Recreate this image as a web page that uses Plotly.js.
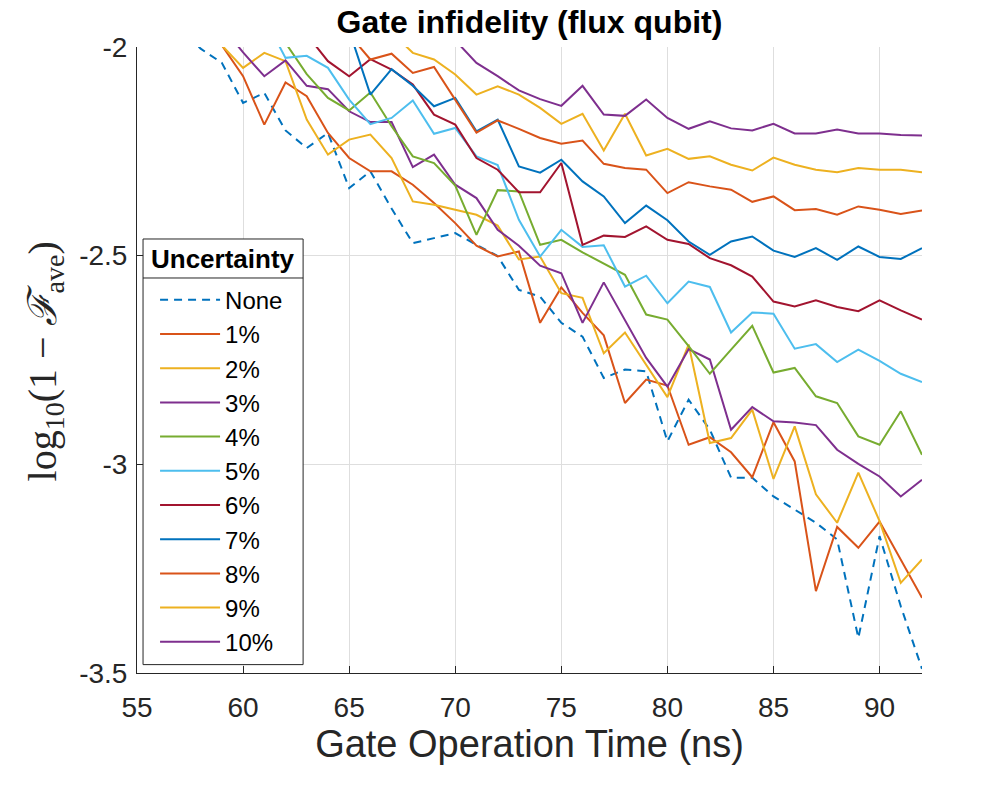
<!DOCTYPE html>
<html>
<head>
<meta charset="utf-8">
<script src="https://cdn.plot.ly/plotly-3.0.1.min.js"></script>
<style>
  body { margin: 0; background: #fff; }
  #chart { width: 981px; height: 785px; }
</style>
</head>
<body>
<div id="chart"></div>
<script>
// gate operation time (ns)
const times = [55,56,57,58,59,60,61,62,63,64,65,66,67,68,69,70,71,72,73,74,75,76,77,78,79,80,81,82,83,84,85,86,87,88,89,90,91,92];

const labels = ["None","1%","2%","3%","4%","5%","6%","7%","8%","9%","10%"];
const colors = ["#0072BD","#D95319","#EDB120","#7E2F8E","#77AC30","#4DBEEE","#A2142F","#0072BD","#D95319","#EDB120","#7E2F8E"];

// each series starts at its first listed time, earlier points are off the top of the axis
const startNone = 57;
const valsNone = [-1.95,-2.004,-2.038,-2.134,-2.11,-2.2,-2.242,-2.206,-2.338,-2.298,-2.387,-2.47,-2.458,-2.446,-2.474,-2.501,-2.582,-2.598,-2.661,-2.694,-2.793,-2.773,-2.777,-2.945,-2.845,-2.917,-3.032,-3.032,-3.077,-3.108,-3.14,-3.18,-3.416,-3.172,-3.34,-3.49];
const start1 = 58;
const vals1 = [-1.93,-1.996,-2.07,-2.186,-2.085,-2.118,-2.206,-2.266,-2.298,-2.298,-2.33,-2.374,-2.422,-2.476,-2.502,-2.49,-2.661,-2.576,-2.637,-2.691,-2.853,-2.797,-2.811,-2.953,-2.935,-2.971,-3.031,-2.899,-2.993,-3.304,-3.15,-3.2,-3.137,-3.228,-3.32];
const start2 = 58;
const vals2 = [-1.93,-1.996,-2.05,-2.014,-2.034,-2.174,-2.258,-2.222,-2.21,-2.266,-2.37,-2.378,-2.39,-2.402,-2.428,-2.509,-2.502,-2.59,-2.601,-2.734,-2.684,-2.763,-2.839,-2.713,-2.949,-2.937,-2.869,-3.035,-2.909,-3.072,-3.14,-3.02,-3.136,-3.284,-3.228];
const start3 = 59;
const vals3 = [-1.95,-2.013,-2.07,-2.032,-2.093,-2.101,-2.154,-2.18,-2.18,-2.288,-2.258,-2.33,-2.362,-2.438,-2.476,-2.524,-2.542,-2.661,-2.564,-2.655,-2.745,-2.814,-2.724,-2.749,-2.917,-2.863,-2.897,-2.9,-2.906,-2.965,-2.999,-3.029,-3.077,-3.037];
const start4 = 62;
const vals4 = [-1.99,-2.065,-2.122,-2.152,-2.109,-2.19,-2.262,-2.278,-2.332,-2.45,-2.343,-2.346,-2.474,-2.462,-2.492,-2.52,-2.546,-2.641,-2.653,-2.717,-2.783,-2.725,-2.668,-2.78,-2.769,-2.837,-2.853,-2.933,-2.953,-2.873,-2.977];
const start5 = 61;
const vals5 = [-1.93,-2.026,-2.021,-2.05,-2.126,-2.185,-2.17,-2.128,-2.208,-2.194,-2.262,-2.283,-2.414,-2.502,-2.438,-2.479,-2.475,-2.574,-2.548,-2.614,-2.562,-2.575,-2.684,-2.636,-2.639,-2.723,-2.712,-2.755,-2.725,-2.752,-2.783,-2.803];
const start6 = 63;
const vals6 = [-1.97,-2.034,-2.07,-2.029,-2.054,-2.09,-2.162,-2.186,-2.266,-2.294,-2.348,-2.348,-2.278,-2.474,-2.452,-2.455,-2.43,-2.462,-2.472,-2.506,-2.523,-2.55,-2.61,-2.622,-2.607,-2.623,-2.633,-2.607,-2.631,-2.653];
const start7 = 65;
const vals7 = [-1.96,-2.114,-2.053,-2.093,-2.142,-2.122,-2.202,-2.174,-2.286,-2.301,-2.27,-2.322,-2.358,-2.422,-2.38,-2.415,-2.466,-2.498,-2.466,-2.454,-2.488,-2.503,-2.482,-2.51,-2.478,-2.503,-2.508,-2.482];
const start8 = 65;
const vals8 = [-1.97,-2.03,-2.016,-2.062,-2.048,-2.126,-2.205,-2.176,-2.196,-2.218,-2.232,-2.224,-2.28,-2.29,-2.294,-2.35,-2.324,-2.334,-2.342,-2.371,-2.358,-2.391,-2.388,-2.402,-2.382,-2.39,-2.4,-2.392];
const start9 = 67;
const vals9 = [-1.965,-2.014,-2.03,-2.066,-2.114,-2.094,-2.114,-2.146,-2.184,-2.16,-2.248,-2.16,-2.26,-2.244,-2.268,-2.262,-2.282,-2.296,-2.265,-2.282,-2.294,-2.3,-2.29,-2.294,-2.294,-2.3];
const start10 = 70;
const vals10 = [-1.984,-2.038,-2.07,-2.104,-2.125,-2.141,-2.093,-2.162,-2.165,-2.126,-2.17,-2.196,-2.178,-2.195,-2.2,-2.184,-2.207,-2.207,-2.198,-2.207,-2.207,-2.211,-2.212];

const yTicks = [-3.5,-3,-2.5,-2];
const yTickText = ["-3.5","-3","-2.5","-2"];

const pad = (start, vals) => Array(start - times[0]).fill(null).concat(vals);

const series = [
  pad(startNone, valsNone), pad(start1, vals1), pad(start2, vals2), pad(start3, vals3),
  pad(start4, vals4), pad(start5, vals5), pad(start6, vals6), pad(start7, vals7),
  pad(start8, vals8), pad(start9, vals9), pad(start10, vals10)
];

const data = [];
for (let i = 0; i < series.length; i++) {
  data.push({
    x: times,
    y: series[i],
    type: "scatter",
    mode: "lines",
    name: labels[i],
    line: { color: colors[i], width: 2, dash: i === 0 ? "8px,6px" : "solid" },
    connectgaps: false
  });
}

const axisColor = "#262626";
const font = "Liberation Sans, Arial, Helvetica, sans-serif";

const layout = {
  width: 981,
  height: 785,
  margin: { l: 137, r: 59, t: 47, b: 112 },
  paper_bgcolor: "#fff",
  plot_bgcolor: "#fff",
  showlegend: true,
  title: {
    text: "<b>Gate infidelity (flux qubit)</b>",
    font: { family: font, size: 32, color: "#000" },
    x: 0.5, xref: "paper", y: 0.972, yref: "container", yanchor: "middle"
  },
  xaxis: {
    range: [55, 92],
    tick0: 55, dtick: 5,
    ticks: "inside", ticklen: 7, tickcolor: axisColor, tickwidth: 1,
    showline: true, linecolor: axisColor, linewidth: 1,
    showgrid: true, gridcolor: "#dedede", gridwidth: 1,
    zeroline: false,
    ticklabelstandoff: 9,
    tickfont: { family: font, size: 28, color: axisColor },
    title: { text: "Gate Operation Time (ns)", font: { family: font, size: 38, color: axisColor }, standoff: 8 }
  },
  yaxis: {
    range: [-3.5, -2],
    tickvals: yTicks, ticktext: yTickText,
    ticks: "inside", ticklen: 7, tickcolor: axisColor, tickwidth: 1,
    showline: true, linecolor: axisColor, linewidth: 1,
    showgrid: true, gridcolor: "#dedede", gridwidth: 1,
    zeroline: false,
    ticklabelstandoff: 3,
    tickfont: { family: font, size: 28, color: axisColor }
  },
  legend: {
    x: 0.023, y: 0.6315, xanchor: "left", yanchor: "top",
    bgcolor: "rgba(255,255,255,0)", borderwidth: 0,
    font: { family: font, size: 24, color: "#000" },
    itemwidth: 60,
    tracegroupgap: 0
  },
  shapes: [
    { type: "rect", xref: "paper", yref: "paper", x0: 0.0077, x1: 0.2116, y0: 0.0134, y1: 0.6933,
      fillcolor: "#fff", line: { color: axisColor, width: 1 }, layer: "above" },
    { type: "line", xref: "paper", yref: "paper", x0: 0.0077, x1: 0.2116, y0: 0.631, y1: 0.631,
      line: { color: axisColor, width: 1 }, layer: "above" }
  ],
  annotations: [
    { text: "<b>Uncertainty</b>", xref: "paper", yref: "paper", x: 0.1097, y: 0.662,
      xanchor: "center", yanchor: "middle", showarrow: false,
      font: { family: font, size: 26, color: "#000" } },
    { text: "log<sub>10</sub>(1 − <i>ℱ</i><sub>ave</sub>)", xref: "paper", yref: "paper",
      x: -0.1177, y: 0.497, xanchor: "center", yanchor: "middle", textangle: -90, showarrow: false,
      font: { family: "Liberation Serif, DejaVu Serif, serif", size: 40, color: axisColor } }
  ]
};

Plotly.newPlot("chart", data, layout, { displayModeBar: false, staticPlot: true });
</script>
</body>
</html>
